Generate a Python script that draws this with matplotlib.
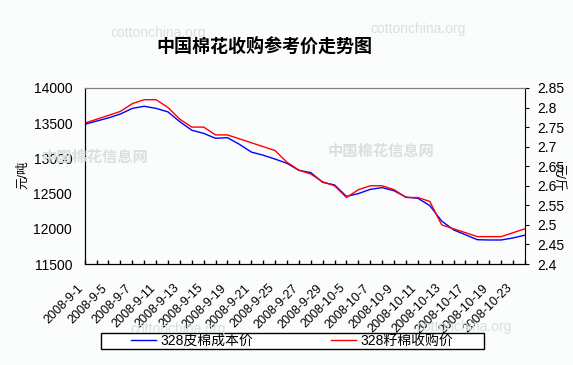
import matplotlib
matplotlib.use('Agg')
import matplotlib.pyplot as plt
from matplotlib.lines import Line2D
from matplotlib.patches import Rectangle
from matplotlib.transforms import ScaledTranslation

plt.rcParams['font.family'] = ['Liberation Sans', 'Noto Sans CJK SC']

# 日期（每隔一个标注）
dates = ['2008-9-1', '2008-9-3', '2008-9-5', '2008-9-6', '2008-9-7', '2008-9-9',
         '2008-9-11', '2008-9-12', '2008-9-13', '2008-9-14', '2008-9-15', '2008-9-17',
         '2008-9-19', '2008-9-20', '2008-9-21', '2008-9-23', '2008-9-25', '2008-9-26',
         '2008-9-27', '2008-9-28', '2008-9-29', '2008-9-30', '2008-10-5', '2008-10-6',
         '2008-10-7', '2008-10-8', '2008-10-9', '2008-10-10', '2008-10-11', '2008-10-12',
         '2008-10-13', '2008-10-15', '2008-10-17', '2008-10-18', '2008-10-19', '2008-10-21',
         '2008-10-23', '2008-10-24']

# 328皮棉成本价 元/吨
lint_cost = [13484, 13530, 13575, 13630, 13710, 13740, 13710, 13660, 13520, 13400,
             13355, 13285, 13294, 13200, 13090, 13045, 12990, 12930, 12830, 12798,
             12660, 12622, 12460, 12500, 12560, 12585, 12540, 12450, 12433, 12330,
             12110, 11985, 11915, 11845, 11841, 11841, 11870, 11910]

# 328籽棉收购价 元/斤
seed_price = [2.76, 2.77, 2.78, 2.79, 2.81, 2.82, 2.82, 2.80, 2.77, 2.75,
              2.75, 2.73, 2.73, 2.72, 2.71, 2.70, 2.69, 2.66, 2.64, 2.63,
              2.61, 2.60, 2.57, 2.59, 2.60, 2.60, 2.59, 2.57, 2.57, 2.56,
              2.50, 2.49, 2.48, 2.47, 2.47, 2.47, 2.48, 2.49]

left_ticks = [11500, 12000, 12500, 13000, 13500, 14000]
right_ticks = [2.4, 2.45, 2.5, 2.55, 2.6, 2.65, 2.7, 2.75, 2.8, 2.85]

bg = '#fbfcfc'
fig = plt.figure(figsize=(5.73, 3.65), dpi=100, facecolor=bg)

# 水印
wm = '#d9e0e0'
fig.text(0.275, 0.91, 'cottonchina.org', fontsize=10, color=wm, ha='center', va='center')
fig.text(0.73, 0.92, 'cottonchina.org', fontsize=10, color=wm, ha='center', va='center')
fig.text(0.31, 0.1, 'cottonchina.org', fontsize=10, color=wm, ha='center', va='center')
fig.text(0.81, 0.105, 'cottonchina.org', fontsize=10, color=wm, ha='center', va='center')
fig.text(0.165, 0.567, '中国棉花信息网', fontsize=11, color=wm, ha='center', va='center', weight='bold')
fig.text(0.665, 0.583, '中国棉花信息网', fontsize=11, color=wm, ha='center', va='center', weight='bold')

ax = fig.add_axes([0.1478, 0.2767, 0.7684, 0.4823])
ax.patch.set_alpha(0)
x = list(range(len(dates)))
ax.plot(x, lint_cost, color='#0000ff', lw=1.0)
ax.set_xlim(0, len(dates) - 1)
ax.set_ylim(11500, 14000)
ax.set_yticks(left_ticks)
ax.set_yticklabels([str(v) for v in left_ticks], fontsize=10)
ax.tick_params(axis='y', length=0, pad=9)
ax.set_xticks(x)
ax.set_xticklabels([])
ax.tick_params(axis='x', direction='in', length=3, width=1)
# 日期标签（斜放，每隔一个）
shift = ax.get_xaxis_transform() + ScaledTranslation(-7 / 100, -18 / 100, fig.dpi_scale_trans)
for i, d in enumerate(dates):
    if i % 2 == 0:
        ax.text(i, 0, d, transform=shift, rotation=45, ha='right', va='top',
                rotation_mode='anchor', fontsize=9)
for s in ['left', 'bottom']:
    ax.spines[s].set_color('black')
ax.spines['top'].set_color('#808080')
ax.spines['right'].set_visible(False)

ax2 = ax.twinx()
ax2.plot(x, seed_price, color='#ff0000', lw=1.0)
ax2.set_ylim(2.4, 2.85)
ax2.set_yticks(right_ticks)
ax2.set_yticklabels([f'{v:g}' for v in right_ticks], fontsize=10)
ax2.tick_params(axis='y', direction='out', length=3, pad=6)
ax2.spines['right'].set_color('black')
ax2.spines['top'].set_color('#808080')

fig.text(0.461, 0.873, '中国棉花收购参考价走势图', fontsize=13, weight='bold',
         ha='center', va='center')
fig.text(0.04, 0.52, '元/吨', fontsize=9, rotation=90, ha='center', va='center')
fig.text(0.975, 0.515, '元/斤', fontsize=9, rotation=-90, ha='center', va='center')

# 图例
fig.patches.append(Rectangle((101 / 573, 16 / 365), 383 / 573, 16 / 365,
                             transform=fig.transFigure, facecolor='white',
                             edgecolor='black', lw=1))
handles = [Line2D([], [], color='#0000ff', lw=1), Line2D([], [], color='#ff0000', lw=1)]
fig.legend(handles, ['328皮棉成本价', '328籽棉收购价'], ncol=2,
           loc='center', bbox_to_anchor=(292 / 573, 24 / 365), fontsize=10,
           frameon=False, borderpad=0, handlelength=1.8, handletextpad=0.3,
           columnspacing=5.6)

fig.savefig('out.png', dpi=100, facecolor=bg)
